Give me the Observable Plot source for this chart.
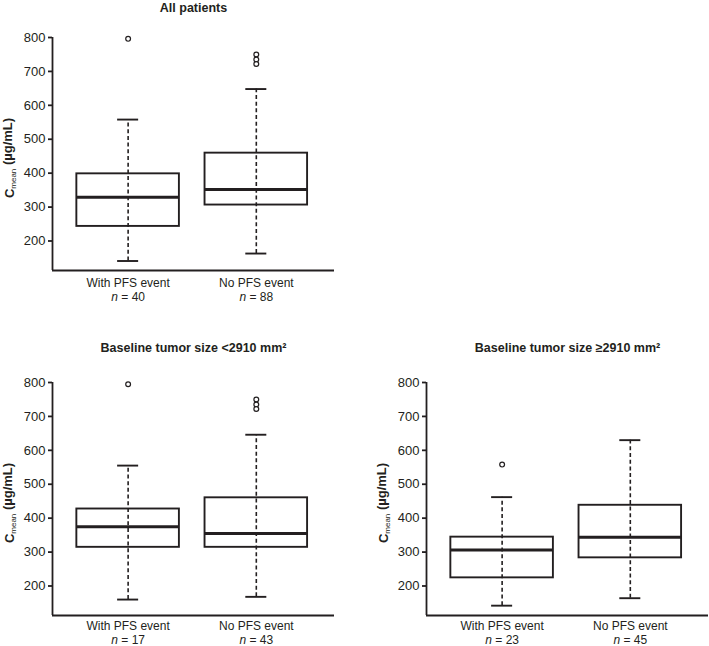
<!DOCTYPE html>
<html><head><meta charset="utf-8">
<script src="https://cdn.jsdelivr.net/npm/d3@7"></script>
<script src="https://cdn.jsdelivr.net/npm/@observablehq/plot@0.6"></script>
<style>
body{margin:0;background:#fff;overflow:hidden;}
#wrap{position:relative;width:709px;height:646px;overflow:hidden;font-family:"Liberation Sans",Arial,sans-serif;}
.panel{position:absolute;width:345px;height:310px;}
.panel svg{max-width:none !important;}
</style></head><body><div id="wrap"></div>
<script>
const groups = ["With PFS event", "No PFS event"];
const panelTitles = ["All patients", "Baseline tumor size <2910 mm²", "Baseline tumor size ≥2910 mm²"];
const nCounts = [[40, 88], [17, 43], [23, 45]];
const lowerWhisker = [[141, 163], [160, 168], [142, 164]];
const q1 = [[243, 306], [314, 314], [224, 283]];
const median = [[329, 352], [375, 355], [306, 344]];
const q3 = [[398, 459], [427, 460], [344, 438]];
const upperWhisker = [[558, 648], [555, 646], [462, 630]];
const outliers = [[[796], [750, 735, 722]], [[795], [750, 735, 722]], [[558], []]];
const yTicks = [200, 300, 400, 500, 600, 700, 800];
const yLabel = "Cmean (µg/mL)";

const ink = "#231f20";
const layout = [
  {left: 0, top: 0, titleDy: -30, gDy: 13, nDy: 27},
  {left: 0, top: 345, titleDy: -35, gDy: 11, nDy: 25},
  {left: 374, top: 345, titleDy: -35, gDy: 11, nDy: 25}
];
const X0 = 0.41, X1 = 2.61, Y0 = 113, Y1 = 800;
const half = 0.4, cap = 0.082;

const wrap = document.getElementById("wrap");

panelTitles.forEach((title, p) => {
  const rows = groups.map((g, i) => ({
    pos: i + 1, group: g, n: "n = " + nCounts[p][i],
    lo: lowerWhisker[p][i], q1: q1[p][i], med: median[p][i], q3: q3[p][i], hi: upperWhisker[p][i]
  }));
  const outs = [];
  groups.forEach((g, i) => outliers[p][i].forEach(v => outs.push({pos: i + 1, v})));

  const chart = Plot.plot({
    width: 345, height: 310,
    marginLeft: 52, marginRight: 11, marginTop: 37, marginBottom: 40,
    style: {fontFamily: '"Liberation Sans", Arial, sans-serif', fontSize: "13px", color: ink, background: "white", overflow: "visible", maxWidth: "none"},
    x: {domain: [X0, X1], axis: null},
    y: {domain: [Y0, Y1], axis: null},
    marks: [
      Plot.axisY({ticks: yTicks, tickSize: 4, tickPadding: 3, label: null, fontSize: 13, strokeWidth: 1.8, stroke: ink, fill: ink}),
      Plot.ruleX([X0], {stroke: ink, strokeWidth: 1.8}),
      Plot.ruleY([Y0], {stroke: ink, strokeWidth: 1.8}),
      Plot.ruleX(rows, {x: "pos", y1: "lo", y2: "hi", stroke: ink, strokeWidth: 1.6, strokeDasharray: "4,2.7"}),
      Plot.rect(rows, {x1: d => d.pos - half, x2: d => d.pos + half, y1: "q1", y2: "q3", fill: "none", stroke: ink, strokeWidth: 1.9}),
      Plot.ruleY(rows, {y: "med", x1: d => d.pos - half, x2: d => d.pos + half, stroke: ink, strokeWidth: 3}),
      Plot.ruleY(rows, {y: "hi", x1: d => d.pos - cap, x2: d => d.pos + cap, stroke: ink, strokeWidth: 1.9}),
      Plot.ruleY(rows, {y: "lo", x1: d => d.pos - cap, x2: d => d.pos + cap, stroke: ink, strokeWidth: 1.9}),
      Plot.dot(outs, {x: "pos", y: "v", r: 2.4, fill: "white", stroke: ink, strokeWidth: 1.2}),
      Plot.text(rows, {x: "pos", y: () => Y0, text: "group", dy: layout[p].gDy, fontSize: 12, fill: ink}),
      Plot.text(rows, {x: "pos", y: () => Y0, text: "n", dy: layout[p].nDy, fontSize: 12, fill: ink}),
      Plot.text([title], {frameAnchor: "top", lineAnchor: "middle", dy: layout[p].titleDy, fontSize: 12.5, fontWeight: "bold", fill: ink}),
      Plot.text([yLabel], {frameAnchor: "left", textAnchor: "middle", lineAnchor: "middle", dx: -43, dy: 4, rotate: -90, fontSize: 13, fontWeight: "bold", fill: ink})
    ]
  });

  d3.select(chart).selectAll("text").each(function () {
    const t = this.textContent;
    if (t === yLabel) {
      const s = d3.select(this);
      s.text(null);
      s.append("tspan").text("C");
      s.append("tspan").attr("font-size", "8px").attr("font-weight", "normal").attr("dy", "0.3em").text("mean");
      s.append("tspan").attr("dy", "-0.3em").text(" (µg/mL)");
    } else if (t.startsWith("n = ")) {
      const s = d3.select(this);
      const rest = t.slice(1);
      s.text(null);
      s.append("tspan").attr("font-style", "italic").text("n");
      s.append("tspan").text(rest);
    }
  });

  const div = document.createElement("div");
  div.className = "panel";
  div.style.left = layout[p].left + "px";
  div.style.top = layout[p].top + "px";
  div.appendChild(chart);
  wrap.appendChild(div);
});
</script></body></html>
